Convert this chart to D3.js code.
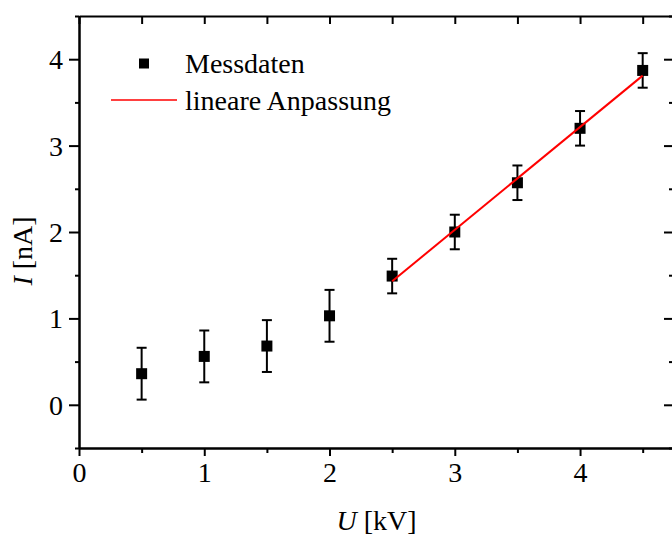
<!DOCTYPE html>
<html>
<head>
<meta charset="utf-8">
<script src="https://cdn.jsdelivr.net/npm/d3@7"></script>
<style>
  html, body { margin: 0; padding: 0; background: #fff; }
  svg { display: block; }
  svg text { font-family: "Liberation Serif", "Times New Roman", Times, "DejaVu Serif", serif !important; fill: #000; }
</style>
</head>
<body>
<script>
// ---- data ----
const voltage = [0.5, 1, 1.5, 2, 2.5, 3, 3.5, 4, 4.5];
const current = [0.36, 0.56, 0.68, 1.03, 1.49, 2.0, 2.57, 3.2, 3.87];
const currentErr = [0.3, 0.3, 0.3, 0.3, 0.2, 0.2, 0.2, 0.2, 0.2];
const fitVoltage = [2.5, 4.5];
const fitCurrent = [1.43, 3.81];
const xTicks = [0, 1, 2, 3, 4];
const yTicks = [0, 1, 2, 3, 4];
const legendLabels = ["Messdaten", "lineare Anpassung"];

const W = 672, H = 536;
const SERIF = "'Liberation Serif', 'Times New Roman', Times, 'DejaVu Serif', serif";
const svg = d3.select("body").append("svg").attr("width", W).attr("height", H)
  .style("font-family", SERIF);

const x = d3.scaleLinear().domain([0, 4.75]).range([79, 674]);
const y = d3.scaleLinear().domain([-0.5, 4.5]).range([448, 16]);

const FS = 28;
const axisW = 2;

// minor tick values
const xMinor = d3.range(0.5, 4.75, 1);
const yMinor = d3.range(-0.5, 4.6, 1);

// bottom axis
const gB = svg.append("g").attr("transform", `translate(0,${y(-0.5)})`);
gB.call(d3.axisBottom(x).tickValues(xTicks).tickSize(8).tickSizeOuter(0).tickFormat(d3.format("d")));
gB.append("g").call(d3.axisBottom(x).tickValues(xMinor).tickSize(5).tickSizeOuter(0).tickFormat(""));
// top axis
const gT = svg.append("g").attr("transform", `translate(0,${y(4.5)})`);
gT.call(d3.axisTop(x).tickValues(xTicks.concat(xMinor)).tickSize(-8).tickSizeOuter(0).tickFormat(""));
// left axis
const gL = svg.append("g").attr("transform", `translate(${x(0)},0)`);
gL.call(d3.axisLeft(y).tickValues(yTicks).tickSize(10).tickSizeOuter(0).tickFormat(d3.format("d")));
gL.append("g").call(d3.axisLeft(y).tickValues(yMinor).tickSize(4).tickSizeOuter(0).tickFormat(""));
// right axis
const gR = svg.append("g").attr("transform", `translate(${x(4.75)},0)`);
gR.call(d3.axisRight(y).tickValues(yTicks).tickSize(-10).tickSizeOuter(0).tickFormat(""));
gR.append("g").call(d3.axisRight(y).tickValues(yMinor).tickSize(-5).tickSizeOuter(0).tickFormat(""));

svg.selectAll("g").attr("font-family", null);
svg.selectAll(".domain").attr("stroke", "#000").attr("stroke-width", axisW);
svg.selectAll(".tick line").attr("stroke", "#000").attr("stroke-width", axisW);
svg.selectAll(".tick text")
  .style("font-family", SERIF)
  .attr("font-size", FS)
  .attr("fill", "#000");
gB.selectAll(".tick text").attr("y", 14).attr("dy", "0.71em");
gL.selectAll(".tick text").attr("x", -16).attr("dy", "0.34em");

// error bars
const capW = 5;
const eb = svg.append("g").attr("stroke", "#000").attr("stroke-width", 2).attr("fill", "none");
voltage.forEach((u, i) => {
  const cx = x(u), y1 = y(current[i] + currentErr[i]), y2 = y(current[i] - currentErr[i]);
  eb.append("line").attr("x1", cx).attr("x2", cx).attr("y1", y1).attr("y2", y2);
  eb.append("line").attr("x1", cx - capW).attr("x2", cx + capW).attr("y1", y1).attr("y2", y1);
  eb.append("line").attr("x1", cx - capW).attr("x2", cx + capW).attr("y1", y2).attr("y2", y2);
});

// markers
const sq = 11;
svg.append("g").selectAll("rect").data(voltage).join("rect")
  .attr("x", d => x(d) - sq / 2)
  .attr("y", (d, i) => y(current[i]) - sq / 2)
  .attr("width", sq).attr("height", sq)
  .attr("fill", "#000");

// fit line
svg.append("path")
  .datum(fitVoltage.map((u, i) => [u, fitCurrent[i]]))
  .attr("d", d3.line().x(d => x(d[0])).y(d => y(d[1])))
  .attr("stroke", "#ff0000").attr("stroke-width", 2).attr("fill", "none");

// legend
svg.append("rect").attr("x", 144 - 5).attr("y", 63.5 - 5).attr("width", 10).attr("height", 10).attr("fill", "#000");
svg.append("line").attr("x1", 111).attr("x2", 177).attr("y1", 100).attr("y2", 100)
  .attr("stroke", "#ff0000").attr("stroke-width", 1.5);
svg.append("text").attr("x", 185).attr("y", 73).attr("font-size", FS).style("font-family", SERIF).text(legendLabels[0]);
svg.append("text").attr("x", 185).attr("y", 110).attr("font-size", FS).style("font-family", SERIF).text(legendLabels[1]);

// axis titles
const xt = svg.append("text").attr("x", 376.5).attr("y", 530).attr("text-anchor", "middle")
  .attr("font-size", FS).style("font-family", SERIF);
xt.append("tspan").attr("font-style", "italic").text("U");
xt.append("tspan").text(" [kV]");

const yt = svg.append("text").attr("transform", "translate(32,251) rotate(-90)")
  .attr("text-anchor", "middle").attr("font-size", FS).style("font-family", SERIF);
yt.append("tspan").attr("font-style", "italic").text("I");
yt.append("tspan").text(" [nA]");
</script>
</body>
</html>
